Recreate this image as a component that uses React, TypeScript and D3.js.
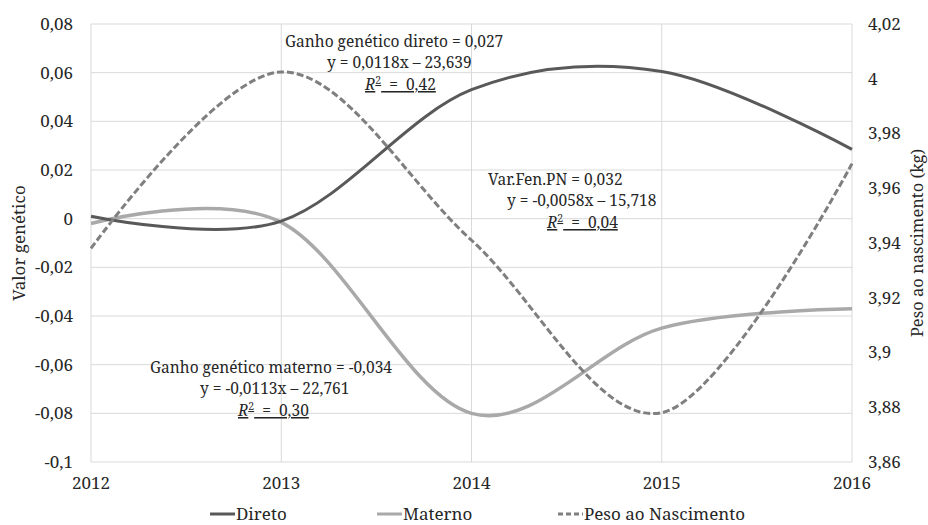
import React, { useRef, useEffect } from "react";
import * as d3 from "d3";

const years = [2012, 2013, 2014, 2015, 2016];
const direto = [0.001, -0.001, 0.053, 0.0605, 0.0285];
const materno = [-0.002, -0.0015, -0.08, -0.045, -0.037];
const peso = [3.938, 4.0025, 3.941, 3.878, 3.969];

const leftTicks = [0.08, 0.06, 0.04, 0.02, 0, -0.02, -0.04, -0.06, -0.08, -0.1];
const rightTicks = [4.02, 4, 3.98, 3.96, 3.94, 3.92, 3.9, 3.88, 3.86];

const FONT = "Noto Serif, Liberation Serif, serif";
const fmt = (v) => String(+v.toFixed(2)).replace(".", ",");

const App = () => {
  const ref = useRef(null);

  useEffect(() => {
    const svg = d3.select(ref.current);
    svg.selectAll("*").remove();

    const left = 91, right = 852, top = 24, bottom = 462;
    const x = d3.scaleLinear().domain([2012, 2016]).range([left, right]);
    const yL = d3.scaleLinear().domain([-0.1, 0.08]).range([bottom, top]);
    const yR = d3.scaleLinear().domain([3.86, 4.02]).range([bottom, top]);

    // grid
    const grid = svg.append("g").attr("stroke", "#d9d9d9").attr("stroke-width", 1);
    leftTicks.forEach((t) => {
      grid.append("line").attr("x1", left).attr("x2", right)
        .attr("y1", yL(t)).attr("y2", yL(t));
    });
    years.forEach((yr) => {
      grid.append("line").attr("x1", x(yr)).attr("x2", x(yr))
        .attr("y1", top).attr("y2", bottom);
    });

    const txt = svg.append("g").attr("fill", "#262626");
    const label = () => txt.append("text").attr("font-family", FONT).style("white-space", "pre");

    // ticks
    leftTicks.forEach((t) => {
      label().attr("x", 73).attr("y", yL(t)).attr("dy", "0.35em")
        .attr("text-anchor", "end").attr("font-size", 17).text(fmt(t));
    });
    rightTicks.forEach((t) => {
      label().attr("x", 868).attr("y", yR(t)).attr("dy", "0.35em")
        .attr("font-size", 17).text(fmt(t));
    });
    years.forEach((yr) => {
      label().attr("x", x(yr)).attr("y", 489)
        .attr("text-anchor", "middle").attr("font-size", 17).text(yr);
    });

    // axis titles
    label().attr("transform", "translate(25,243) rotate(-90)")
      .attr("text-anchor", "middle").attr("font-size", 17).text("Valor genético");
    label().attr("transform", "translate(923,243) rotate(-90)")
      .attr("text-anchor", "middle").attr("font-size", 16.5).text("Peso ao nascimento (kg)");

    // lines
    const curve = d3.curveCardinal.tension(0);
    const lineL = d3.line().x((d) => x(d[0])).y((d) => yL(d[1])).curve(curve);
    const lineR = d3.line().x((d) => x(d[0])).y((d) => yR(d[1])).curve(curve);

    svg.append("path").attr("d", lineL(years.map((y, i) => [y, materno[i]])))
      .attr("fill", "none").attr("stroke", "#a9a9a9").attr("stroke-width", 3.5);
    svg.append("path").attr("d", lineL(years.map((y, i) => [y, direto[i]])))
      .attr("fill", "none").attr("stroke", "#595959").attr("stroke-width", 3);
    svg.append("path").attr("d", lineR(years.map((y, i) => [y, peso[i]])))
      .attr("fill", "none").attr("stroke", "#7f7f7f").attr("stroke-width", 3)
      .attr("stroke-dasharray", "7,3");

    // annotations
    const notes = [
      { lines: ["Ganho genético direto = 0,027", "y = 0,0118x – 23,639"], xs: [285, 327, 365], r2: "0,42", y0: 47 },
      { lines: ["Var.Fen.PN = 0,032", "y = -0,0058x – 15,718"], xs: [488, 507, 547], r2: "0,04", y0: 185 },
      { lines: ["Ganho genético materno = -0,034", "y = -0,0113x – 22,761"], xs: [150, 200, 238], r2: "0,30", y0: 373 },
    ];
    notes.forEach((n) => {
      n.lines.forEach((l, i) => {
        label().attr("x", n.xs[i]).attr("y", n.y0 + i * 21)
          .attr("font-size", 15.5).text(l);
      });
      const r = label().attr("x", n.xs[2]).attr("y", n.y0 + 43)
        .attr("font-size", 15.5).attr("text-decoration", "underline");
      r.append("tspan").attr("font-style", "italic").text("R");
      r.append("tspan").attr("font-size", 10.5).attr("dy", -6).text("2");
      r.append("tspan").attr("dy", 6).text("  =  " + n.r2);
    });

    // legend
    const legend = [
      { name: "Direto", color: "#595959", dash: null, x: 210 },
      { name: "Materno", color: "#a9a9a9", dash: null, x: 377 },
      { name: "Peso ao Nascimento", color: "#7f7f7f", dash: "5,3", x: 558 },
    ];
    legend.forEach((l) => {
      svg.append("line").attr("x1", l.x).attr("x2", l.x + 25).attr("y1", 514).attr("y2", 514)
        .attr("stroke", l.color).attr("stroke-width", 3)
        .attr("stroke-dasharray", l.dash);
      label().attr("x", l.x + 26).attr("y", 520)
        .attr("font-size", 17).text(l.name);
    });
  }, []);

  return (
    <svg ref={ref} width="928" height="525"
      style={{ position: "absolute", left: 0, top: 0, background: "#fff" }}></svg>
  );
};

export default App;
